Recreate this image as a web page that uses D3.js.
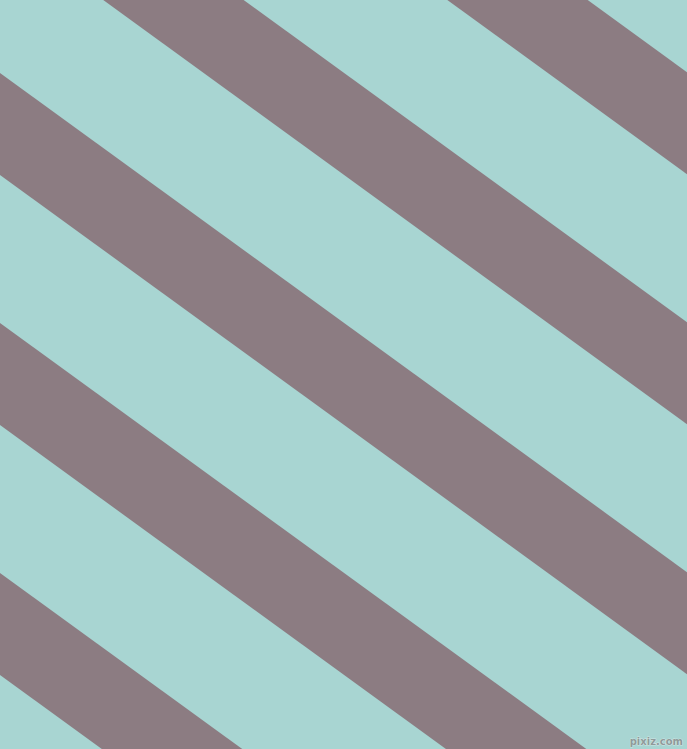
<!DOCTYPE html>
<html>
<head>
<meta charset="utf-8">
<script src="https://cdn.jsdelivr.net/npm/d3@7"></script>
<style>
  html, body { margin: 0; padding: 0; background: #a8d5d2; }
  svg { display: block; }
</style>
</head>
<body>
<div id="chart"></div>
<script>
// stripes, counted from the top right corner down to the bottom left
const stripes = [0, 1, 2, 3, 4];
const angleDeg = [36];          // stripe tilt, degrees below horizontal
const colours = { ground: "#a8d5d2", band: "#8c7c82" };

const width = 687, height = 749;
const slope = Math.tan(angleDeg[0] * Math.PI / 180);

const svg = d3.select("#chart")
    .append("svg")
    .attr("width", width)
    .attr("height", height);

svg.append("rect")
    .attr("width", width)
    .attr("height", height)
    .attr("fill", colours.ground);

// stripe index -> y where its upper edge meets the left border
const offset = d3.scaleLinear().domain([0, 1]).range([-427, -177]);
const band = 102;   // vertical thickness of a grey band

const x = d3.scaleLinear().domain([0, width]).range([0, width]);
const line = d3.line().x(d => x(d[0])).y(d => d[1]);

function edge(y0, xs) {
    return xs.map(xx => [xx, y0 + slope * xx]);
}

svg.append("g")
    .selectAll("path")
    .data(stripes)
    .join("path")
    .attr("fill", colours.band)
    .attr("d", i => {
        const top = edge(offset(i), [-20, width + 20]);
        const bottom = edge(offset(i) + band, [width + 20, -20]);
        return line(top.concat(bottom)) + "Z";
    });

// small site mark, bottom right
svg.append("text")
    .attr("x", width - 4)
    .attr("y", height - 4)
    .attr("text-anchor", "end")
    .attr("font-family", "DejaVu Sans, sans-serif")
    .attr("font-size", 10)
    .attr("font-weight", "bold")
    .attr("fill", "#8f9a9a")
    .attr("stroke", "#eef3f3")
    .attr("stroke-width", 0.6)
    .attr("paint-order", "stroke")
    .text("pixiz.com");
</script>
</body>
</html>
